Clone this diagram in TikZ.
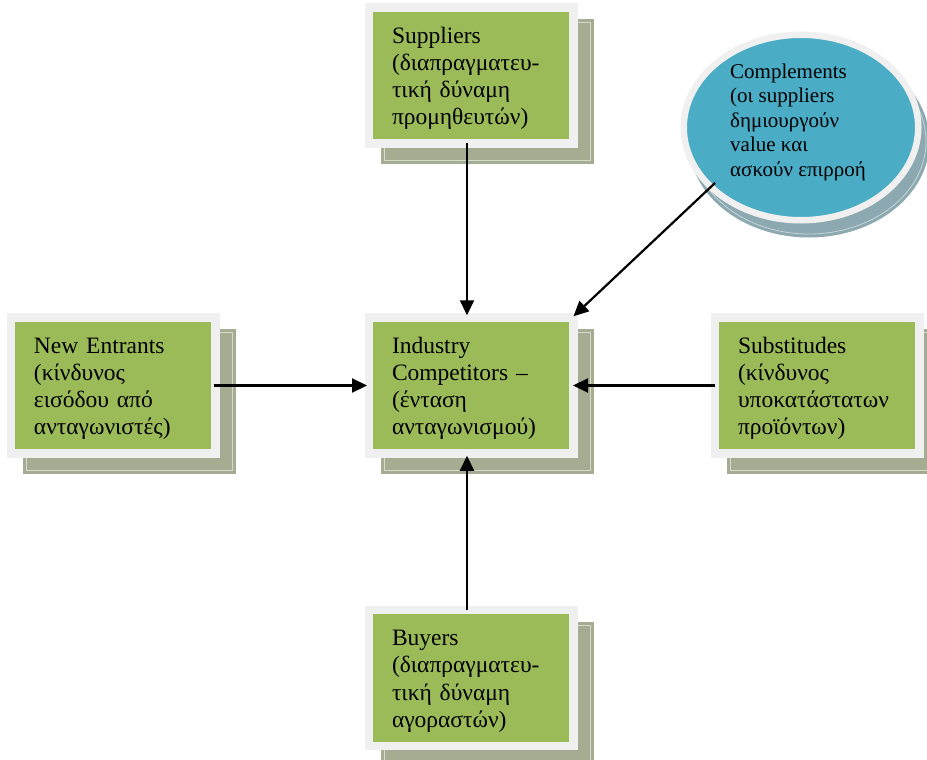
\documentclass[tikz,border=0pt]{standalone}
\usepackage{fontspec}
\setmainfont{Liberation Serif}
\usetikzlibrary{arrows.meta,backgrounds,calc,shapes.geometric}

\definecolor{boxgreen}{RGB}{155,187,89}
\definecolor{rimwhite}{RGB}{240,240,240}
\definecolor{boxshade}{RGB}{165,172,145}
\definecolor{shadeline}{RGB}{215,219,205}
\definecolor{compteal}{RGB}{75,172,198}
\definecolor{compshade}{RGB}{140,168,176}
\definecolor{compline}{RGB}{200,214,218}

\tikzset{
  force/.style={rectangle, fill=boxgreen, draw=rimwhite, line width=8.5pt,
    minimum width=204.5pt, minimum height=136pt, inner sep=0pt,
    text width=158pt, align=left, font=\fontsize{23.5}{27.3}\selectfont,
    execute at begin node={\rule{0pt}{22pt}}},
  compnode/.style={ellipse, fill=compteal, draw=rimwhite, line width=6.5pt,
    minimum width=234.5pt, minimum height=185.5pt, inner sep=0pt},
  comptext/.style={align=left, inner sep=0pt, font=\fontsize{21}{24.5}\selectfont},
  arr/.style={line width=2.2pt, -{Triangle[length=15pt,width=14pt]}},
}

\begin{document}
\begin{tikzpicture}[x=1pt,y=1pt]
\useasboundingbox (0,0) rectangle (927,-760);

% the five forces
\node[force] (sup) at (471,-75.5)  {Suppliers\\(διαπραγματευ-\\τική δύναμη\\προμηθευτών)};
\node[force] (ent) at (113,-385.5) {New Entrants\\(κίνδυνος\\εισόδου από\\ανταγωνιστές)};
\node[force] (ind) at (471,-385.5) {Industry\\Competitors –\\(ένταση\\ανταγωνισμού)};
\node[force] (sub) at (817,-385.5) {Substitudes\\(κίνδυνος\\υποκατάστατων\\προϊόντων)};
\node[force] (buy) at (471,-678)   {Buyers\\(διαπραγματευ-\\τική δύναμη\\αγοραστών)};

% complements bubble
\node[compnode] (comp) at (801,-127.5) {};
\node[comptext] (compt) at (798,-122) {Complements\\(οι suppliers\\δημιουργούν\\value και\\ασκούν επιρροή};

% offset shadows behind the shapes
\begin{scope}[on background layer]
  \foreach \n in {sup,ent,ind,sub,buy}{
    \fill[boxshade] ([shift={(16,-16)}]\n.north west) rectangle ([shift={(16,-16)}]\n.south east);
    \draw[shadeline, line width=0.8pt] ([shift={(19.5,-19.5)}]\n.north west) rectangle ([shift={(12.5,-12.5)}]\n.south east);
  }
  \fill[compshade] ([shift={(8,-14)}]comp.center) ellipse (120.5pt and 96pt);
  \draw[compline, line width=0.8pt] ([shift={(8,-14)}]comp.center) ellipse (117pt and 92.5pt);
\end{scope}

% influences on the industry
\draw[arr] ([shift={(-4,5)}]sup.south) -- ([shift={(-4,-2)}]ind.north);
\draw[arr] ([shift={(-4,-4)}]buy.north) -- ([shift={(-4,2)}]ind.south);
\draw[arr] ([xshift=-6]ent.east) -- ([xshift=2.5]ind.west);
\draw[arr] ([xshift=4.5]sub.west) -- ([xshift=-4.5]ind.east);
\draw[arr] ($(comp.center)+(-86,-55.5)$) -- ([shift={(-4,-3)}]ind.north east);
\end{tikzpicture}
\end{document}
